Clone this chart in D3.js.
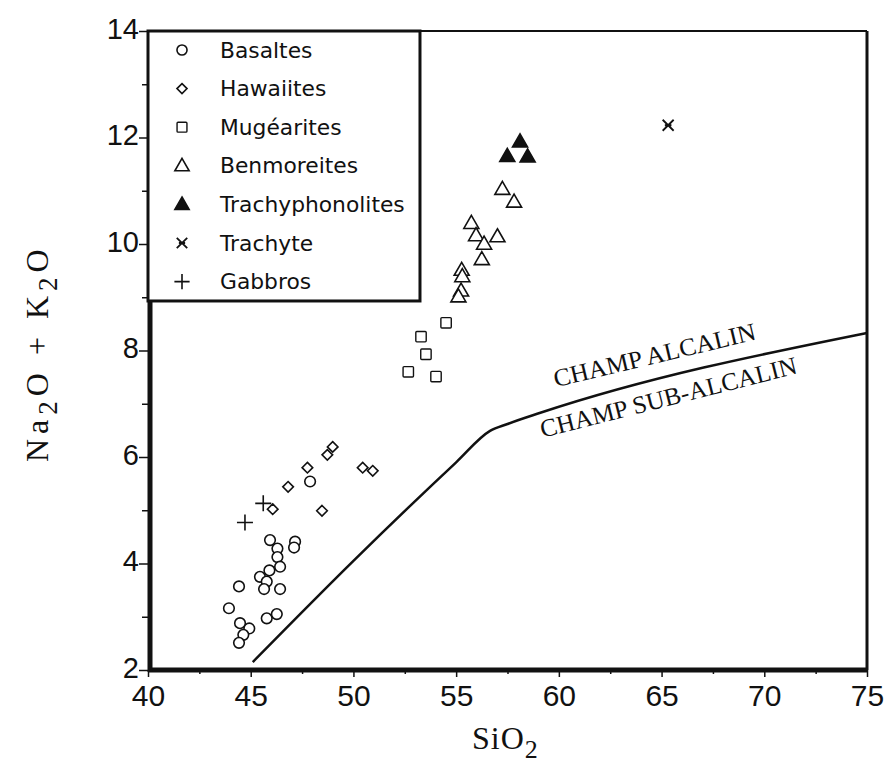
<!DOCTYPE html>
<html>
<head>
<meta charset="utf-8">
<script src="https://cdn.jsdelivr.net/npm/d3@7"></script>
<style>
  body { margin: 0; background: #fff; }
  #chart { width: 896px; height: 769px; }
</style>
</head>
<body>
<div id="chart"></div>
<script>
// SiO2, Na2O + K2O
const basaltes = [
    [45.94, 4.44], [46.30, 4.28], [47.16, 4.41], [47.11, 4.30], [46.30, 4.12],
    [46.43, 3.94], [45.91, 3.87], [45.45, 3.75], [45.78, 3.66], [45.65, 3.52],
    [46.43, 3.52], [44.43, 3.57], [43.94, 3.16], [45.78, 2.97], [46.27, 3.05],
    [44.48, 2.88], [44.93, 2.78], [44.64, 2.66], [44.43, 2.51], [47.89, 5.54]
];
const hawaiites = [
    [48.99, 6.19], [48.73, 6.04], [47.76, 5.80], [46.82, 5.44], [46.07, 5.02],
    [48.47, 4.99], [50.45, 5.80], [50.94, 5.74]
];
const mugearites = [[54.51, 8.52], [53.29, 8.26], [53.53, 7.93], [52.67, 7.60], [54.02, 7.51]];
const benmoreites = [
    [57.25, 11.03], [57.82, 10.79], [55.74, 10.39], [55.97, 10.16], [56.36, 10.0],
    [57.01, 10.14], [56.25, 9.71], [55.27, 9.51], [55.30, 9.39], [55.24, 9.12], [55.11, 9.01]
];
const trachyphonolites = [[58.11, 11.92], [57.49, 11.65], [58.48, 11.64]];
const trachyte = [[65.32, 12.23]];
const gabbros = [[44.72, 4.77], [45.61, 5.13]];

// alkaline / sub-alkaline divide
const divideLine = [[45.1, 2.15], [50, 4.05], [55, 5.9], [56.65, 6.49], [57.5, 6.62], [59.1, 6.83], [75, 8.33]];

const xTicks = [40, 45, 50, 55, 60, 65, 70, 75];
const yTicks = [2, 4, 6, 8, 10, 12, 14];

const legendNames = ["Basaltes", "Hawaiites", "Mugéarites", "Benmoreites", "Trachyphonolites", "Trachyte", "Gabbros"];
const legendKinds = ["circle", "diamond", "square", "triangle", "filledTriangle", "cross", "plus"];

let margin = {top: 31, right: 29, bottom: 99, left: 148};
let width = 896 - margin.left - margin.right;
let height = 769 - margin.top - margin.bottom;

let svg = d3.select("#chart").append("svg")
    .attr("width", 896)
    .attr("height", 769);

let g = svg.append("g")
    .attr("transform", "translate(" + margin.left + "," + margin.top + ")");

let x = d3.scaleLinear().domain([40, 75]).range([0, width]);
let y = d3.scaleLinear().domain([2, 14]).range([height, 0]);

// axes
let xAxis = d3.axisBottom(x).tickValues(d3.range(40, 75.1, 2.5)).tickSize(6)
    .tickFormat(d => xTicks.includes(d) ? d : "");
g.append("g").attr("transform", "translate(0," + height + ")").call(xAxis)
    .call(a => a.select(".domain").remove())
    .call(a => a.selectAll("line").attr("stroke", "#111").attr("stroke-width", 1.5)
        .attr("y2", d => xTicks.includes(d) ? 7 : 4))
    .call(a => a.selectAll("text").attr("y", 9).attr("dy", "0.9em")
        .style("font-family", "'Liberation Sans', Arial, sans-serif").style("font-size", "30px").attr("fill", "#111"));

let yAxis = d3.axisLeft(y).tickValues(d3.range(2, 14.1, 1)).tickSize(8)
    .tickFormat(d => yTicks.includes(d) ? d : "");
g.append("g").call(yAxis)
    .call(a => a.select(".domain").remove())
    .call(a => a.selectAll("line").attr("stroke", "#111").attr("stroke-width", 1.5)
        .attr("x2", d => yTicks.includes(d) ? -9 : -6))
    .call(a => a.selectAll("text").attr("x", -9).attr("dy", "0.25em")
        .style("font-family", "'Liberation Sans', Arial, sans-serif").style("font-size", "29px").attr("fill", "#111"));

// frame, thicker on left and bottom
g.append("line").attr("x1", 0).attr("x2", width).attr("y1", 0).attr("y2", 0).attr("stroke", "#111").attr("stroke-width", 2);
g.append("line").attr("x1", width).attr("x2", width).attr("y1", 0).attr("y2", height).attr("stroke", "#111").attr("stroke-width", 3);
g.append("line").attr("x1", 0).attr("x2", width).attr("y1", height).attr("y2", height).attr("stroke", "#111").attr("stroke-width", 5);
g.append("line").attr("x1", 2).attr("x2", 2).attr("y1", 0).attr("y2", height + 2).attr("stroke", "#111").attr("stroke-width", 5);

// divide line
g.append("path")
    .datum(divideLine)
    .attr("fill", "none")
    .attr("stroke", "#111")
    .attr("stroke-width", 2.5)
    .attr("d", d3.line().x(d => x(d[0])).y(d => y(d[1])).curve(d3.curveMonotoneX));

// field labels
function fieldLabel(txt, sx, sy, angle, len) {
    g.append("text")
        .attr("transform", "translate(" + x(sx) + "," + y(sy) + ") rotate(" + angle + ")")
        .attr("textLength", len)
        .attr("lengthAdjust", "spacingAndGlyphs")
        .style("font-family", "'Liberation Serif', 'Times New Roman', serif")
        .style("font-size", "25px")
        .attr("fill", "#111")
        .text(txt);
}
fieldLabel("CHAMP ALCALIN", 59.85, 7.31, -13.4, 207);
fieldLabel("CHAMP SUB-ALCALIN", 59.2, 6.36, -14.2, 264);

// symbols
function drawSymbol(sel, kind, s) {
    if (kind === "circle") {
        sel.append("circle").attr("r", 5.3 * s).attr("fill", "#fff").attr("stroke", "#111").attr("stroke-width", 1.6);
    } else if (kind === "diamond") {
        let r = 5.3 * s;
        sel.append("path").attr("d", `M0,${-r}L${r},0L0,${r}L${-r},0Z`)
            .attr("fill", "#fff").attr("stroke", "#111").attr("stroke-width", 1.6);
    } else if (kind === "square") {
        let r = 5.2 * s;
        sel.append("rect").attr("x", -r).attr("y", -r).attr("width", 2 * r).attr("height", 2 * r).attr("rx", 1)
            .attr("fill", "#fff").attr("stroke", "#111").attr("stroke-width", 1.4);
    } else if (kind === "triangle" || kind === "filledTriangle") {
        let w = 7.5 * s, h = 13 * s;
        sel.append("path").attr("d", `M0,${-h * 0.6}L${w},${h * 0.4}L${-w},${h * 0.4}Z`)
            .attr("fill", kind === "triangle" ? "#fff" : "#111")
            .attr("stroke", "#111").attr("stroke-width", 1.6).attr("stroke-linejoin", "miter");
    } else if (kind === "cross") {
        let r = 5.5 * s;
        sel.append("path").attr("d", `M${-r},${-r}L${r},${r}M${r},${-r}L${-r},${r}M${-r * 0.6},0L${r * 0.6},0`)
            .attr("stroke", "#111").attr("stroke-width", 1.8);
    } else if (kind === "plus") {
        let r = 8 * s;
        sel.append("path").attr("d", `M${-r},0L${r},0M0,${-r}L0,${r}`)
            .attr("stroke", "#111").attr("stroke-width", 1.6);
    }
}

let groups = [basaltes, hawaiites, mugearites, benmoreites, trachyphonolites, trachyte, gabbros];
groups.forEach(function(pts, i) {
    g.append("g").selectAll("g")
        .data(pts)
        .enter()
        .append("g")
        .attr("transform", d => "translate(" + x(d[0]) + "," + y(d[1]) + ")")
        .each(function() { drawSymbol(d3.select(this), legendKinds[i], 1); });
});

// legend box
let lg = g.append("g");
lg.append("rect")
    .attr("x", 0).attr("y", 0)
    .attr("width", x(53.24)).attr("height", y(8.93))
    .attr("fill", "#fff").attr("stroke", "#111").attr("stroke-width", 3);

legendNames.forEach(function(name, i) {
    let row = lg.append("g").attr("transform", "translate(0," + (19 + i * 38.6) + ")");
    let sym = row.append("g").attr("transform", "translate(34,0)");
    drawSymbol(sym, legendKinds[i], 0.95);
    row.append("text")
        .attr("x", 72)
        .attr("dy", "0.35em")
        .style("font-family", "'DejaVu Sans', Verdana, sans-serif")
        .style("font-size", "21.8px")
        .attr("fill", "#111")
        .text(name);
});

// axis titles
let xt = svg.append("text")
    .attr("x", margin.left + x(57.4))
    .attr("y", 749)
    .attr("text-anchor", "middle")
    .style("font-family", "'Liberation Serif', 'Times New Roman', serif")
    .style("font-size", "32px")
    .style("letter-spacing", "1px")
    .attr("fill", "#111");
xt.append("tspan").text("SiO");
xt.append("tspan").attr("dy", 9).style("font-size", "26px").text("2");

let yt = svg.append("text")
    .attr("transform", "translate(48," + (margin.top + y(7.95)) + ") rotate(-90)")
    .attr("text-anchor", "middle")
    .style("font-family", "'Liberation Serif', 'Times New Roman', serif")
    .style("font-size", "32px")
    .style("letter-spacing", "5px")
    .attr("fill", "#111");
yt.append("tspan").text("Na");
yt.append("tspan").attr("dy", 9).style("font-size", "27px").text("2");
yt.append("tspan").attr("dy", -9).text("O + K");
yt.append("tspan").attr("dy", 9).style("font-size", "27px").text("2");
yt.append("tspan").attr("dy", -9).text("O");
</script>
</body>
</html>
